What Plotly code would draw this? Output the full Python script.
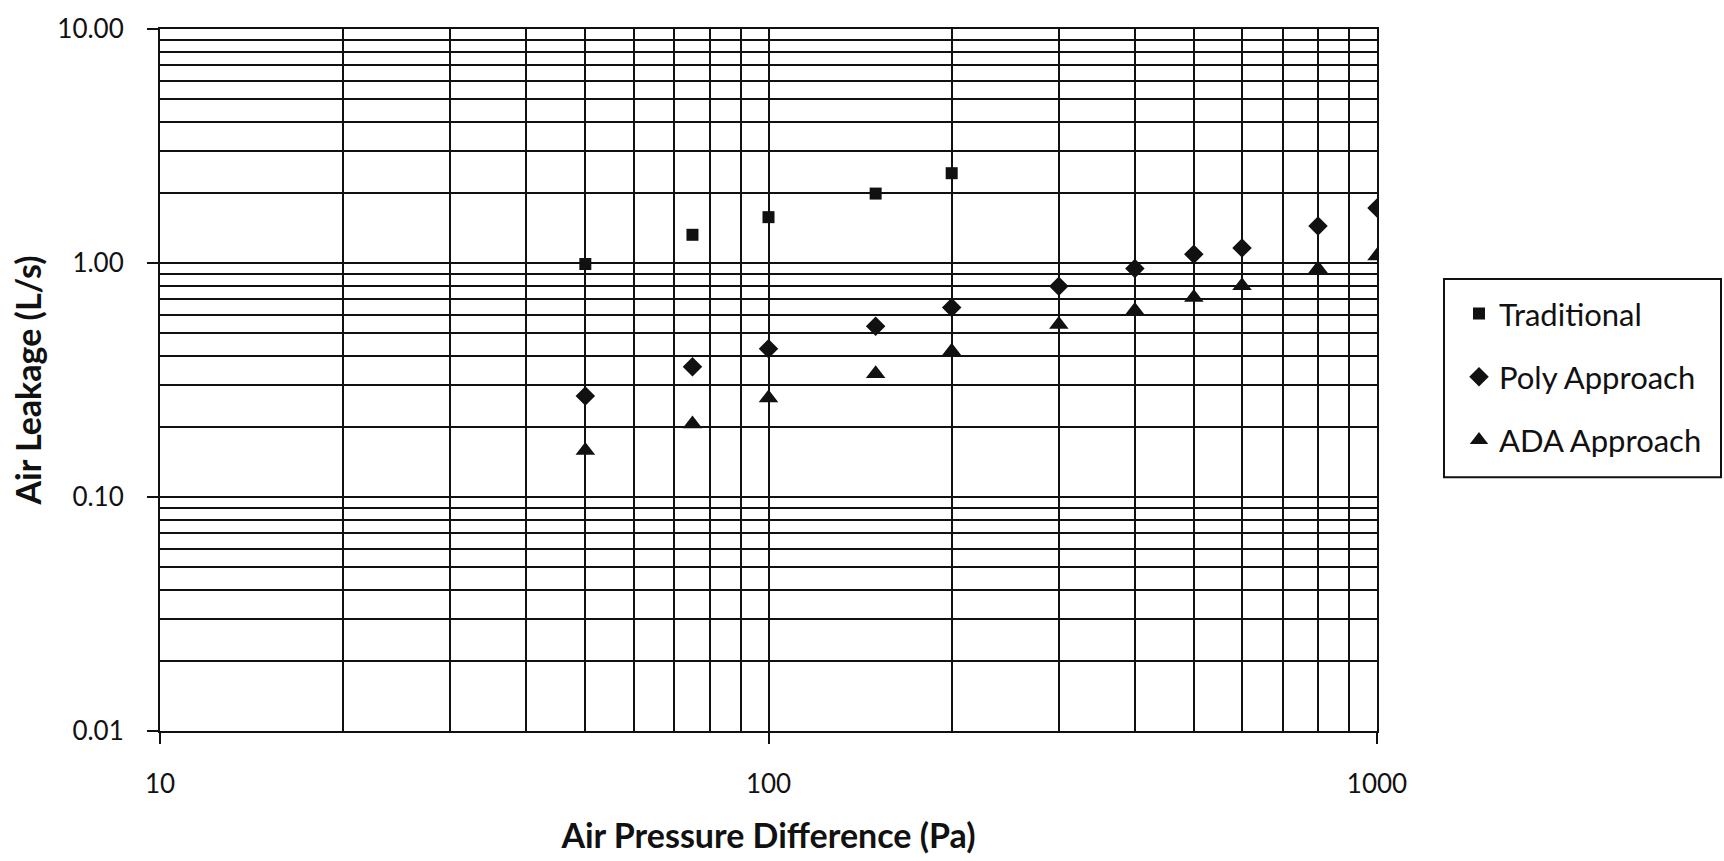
import plotly.graph_objects as go

# Measured air leakage versus pressure difference
pressure_trad = [50, 75, 100, 150, 200]
leak_trad = [0.99, 1.32, 1.57, 1.98, 2.42]

pressure_poly = [50, 75, 100, 150, 200, 300, 400, 500, 600, 800, 1000]
leak_poly = [0.27, 0.36, 0.43, 0.537, 0.645, 0.795, 0.947, 1.09, 1.16, 1.44, 1.72]

pressure_ada = [50, 75, 100, 150, 200, 300, 400, 500, 600, 800, 1000]
leak_ada = [0.158, 0.205, 0.265, 0.336, 0.42, 0.546, 0.627, 0.713, 0.80, 0.945, 1.07]

series_names = ["Traditional", "Poly Approach", "ADA Approach"]

W, H = 1724, 861
ML, MR, MT, MB = 160, 347, 19, 123
INK = "#111111"
FONT = "Lato"


def px_to_paper_x(px):
    return (px - ML) / (W - ML - MR)


def px_to_paper_y(py):
    return (H - MB - py) / (H - MT - MB)


fig = go.Figure()

fig.add_trace(go.Scatter(
    x=pressure_trad, y=leak_trad, mode="markers", name=series_names[0],
    legendgroup="a",
    marker=dict(symbol="square", size=12, color=INK),
))
fig.add_trace(go.Scatter(
    x=pressure_poly, y=leak_poly, mode="markers", name=series_names[1],
    legendgroup="b",
    marker=dict(symbol="diamond", size=15, color=INK),
))
fig.add_trace(go.Scatter(
    x=pressure_ada, y=leak_ada, mode="markers", name=series_names[2],
    legendgroup="c",
    marker=dict(symbol="triangle-up", size=17, color=INK),
))

fig.update_xaxes(
    type="log", range=[1, 3], dtick=1, tickformat="d",
    showgrid=True, gridcolor=INK, gridwidth=1.7,
    minor=dict(dtick="D1", showgrid=True, gridcolor=INK, gridwidth=1.7, ticks=""),
    showline=True, linecolor=INK, linewidth=2, mirror=True,
    ticks="outside", ticklen=11, tickwidth=1.5, tickcolor=INK,
    ticklabelstandoff=18,
    tickfont=dict(family=FONT, size=26, color=INK),
    title=dict(text="<b>Air Pressure Difference (Pa)</b>", standoff=26,
               font=dict(family=FONT, size=34, color=INK)),
)
fig.update_yaxes(
    type="log", range=[-2, 1], dtick=1, tickformat=".2f",
    showgrid=True, gridcolor=INK, gridwidth=2.2,
    minor=dict(dtick="D1", showgrid=True, gridcolor=INK, gridwidth=2.2, ticks=""),
    showline=True, linecolor=INK, linewidth=2, mirror=True,
    ticks="outside", ticklen=11, tickwidth=1.5, tickcolor=INK,
    ticklabelstandoff=18,
    tickfont=dict(family=FONT, size=26, color=INK),
    title=dict(text="<b>Air Leakage (L/s)</b>", standoff=5,
               font=dict(family=FONT, size=34, color=INK)),
)

# Legend frame
fig.add_shape(
    type="rect", xref="paper", yref="paper",
    x0=px_to_paper_x(1444), x1=px_to_paper_x(1721),
    y0=px_to_paper_y(478), y1=px_to_paper_y(275),
    line=dict(color=INK, width=2), fillcolor="white", layer="below",
)

fig.update_layout(
    width=W, height=H,
    margin=dict(l=ML, r=MR, t=MT, b=MB),
    paper_bgcolor="white", plot_bgcolor="white",
    showlegend=True,
    legend=dict(
        x=px_to_paper_x(1459), y=px_to_paper_y(283),
        xanchor="left", yanchor="top",
        bgcolor="rgba(0,0,0,0)", borderwidth=0,
        font=dict(family=FONT, size=31, color=INK),
        tracegroupgap=20, traceorder="grouped",
    ),
)

fig.write_html("out.html")
